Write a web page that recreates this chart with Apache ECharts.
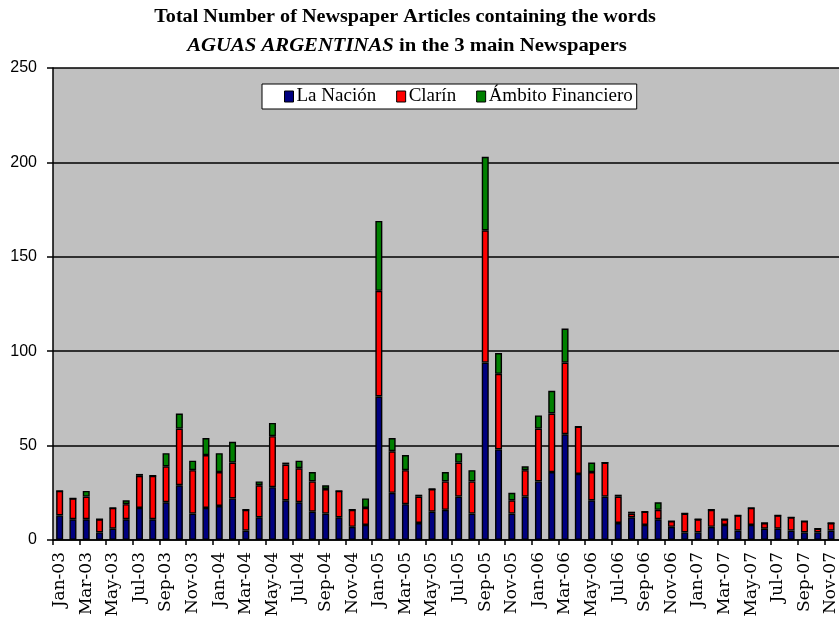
<!DOCTYPE html>
<html><head><meta charset="utf-8">
<script src="https://cdn.jsdelivr.net/npm/echarts@6/dist/echarts.min.js"></script>
<style>html,body{margin:0;padding:0;background:#fff}#c{width:839px;height:617px}</style>
</head><body><div id="c"></div>
<script>
const months = ['Jan-03','Feb-03','Mar-03','Apr-03','May-03','Jun-03','Jul-03','Aug-03','Sep-03','Oct-03','Nov-03','Dec-03',
'Jan-04','Feb-04','Mar-04','Apr-04','May-04','Jun-04','Jul-04','Aug-04','Sep-04','Oct-04','Nov-04','Dec-04',
'Jan-05','Feb-05','Mar-05','Apr-05','May-05','Jun-05','Jul-05','Aug-05','Sep-05','Oct-05','Nov-05','Dec-05',
'Jan-06','Feb-06','Mar-06','Apr-06','May-06','Jun-06','Jul-06','Aug-06','Sep-06','Oct-06','Nov-06','Dec-06',
'Jan-07','Feb-07','Mar-07','Apr-07','May-07','Jun-07','Jul-07','Aug-07','Sep-07','Oct-07','Nov-07','Dec-07'];
const laNacion = [13,11,11,4,6,11,17,11,20,29,14,17, 18,22,5,12,28,21,20,15,14,12,7,8, 76,25,19,9,15,16,23,14,94,48,14,23, 31,36,56,35,21,23,9,12,8,11,7,4, 4,7,8,5,8,6,6,5,4,4,5,7];
const clarin   = [13,11,12,7,11,8,17,23,19,30,23,28, 18,19,11,17,27,19,18,16,13,14,9,9, 56,22,18,14,12,15,18,17,70,40,7,14, 28,31,38,25,15,18,14,2,7,5,3,10, 7,9,3,8,9,3,7,7,6,2,4,8];
const ambito   = [0,0,3,0,0,2,1,0,7,8,5,9, 10,11,0,2,7,1,4,5,2,0,0,5, 37,7,8,1,0,5,5,6,39,11,4,2, 7,12,18,0,5,0,1,1,0,4,0,0, 0,0,0,0,0,0,0,0,0,0,0,0];
const seriesNames = ['La Nación','Clarín','Ámbito Financiero'];
const seriesColors = ['#000080','#ff0000','#008000'];
const yMax = 250, yStep = 50;
const titleLine1 = 'Total Number of Newspaper Articles containing the words';
const titleItalic = 'AGUAS ARGENTINAS';
const titleRest = ' in the 3 main Newspapers';

const chart = echarts.init(document.getElementById('c'));
const values = [laNacion, clarin, ambito];
chart.setOption({
  animation: false,
  backgroundColor: '#ffffff',
  graphic: [
    {type:'text', x:405, y:8, scaleX:1.12, style:{text:titleLine1, textAlign:'center', font:'bold 18px "Liberation Serif"', fill:'#000'}},
    {type:'text', x:407, y:37, scaleX:1.15, style:{text:'{i|'+titleItalic+'}{n|'+titleRest+'}', textAlign:'center',
      rich:{i:{font:'italic bold 18px "Liberation Serif"', fill:'#000'}, n:{font:'bold 18px "Liberation Serif"', fill:'#000'}}}}
  ],
  legend: {
    data: seriesNames, left: 262, top: 84, orient:'horizontal',
    backgroundColor:'#fff', borderColor:'#000', borderWidth:1, padding:[3,4,3,22],
    itemWidth:9, itemHeight:11, itemGap:20,
    icon:'rect',
    itemStyle:{borderColor:'#000', borderWidth:1},
    textStyle:{fontFamily:'Liberation Serif', fontSize:19, color:'#000', padding:[0,0,0,-2]}
  },
  grid: {left:53, top:68, bottom:77, right:-12, show:true, backgroundColor:'#c0c0c0', borderWidth:0,
    containLabel:false, outerBoundsMode:'none'},
  xAxis: {
    type:'category', data: months, boundaryGap:true,
    axisLine:{lineStyle:{color:'#000', width:1.5}},
    axisTick:{show:true, interval:1, length:5, lineStyle:{color:'#000', width:1.5}},
    axisLabel:{interval:1, rotate:90, margin:12, fontFamily:'DejaVu Serif', fontSize:17, color:'#000'}
  },
  yAxis: {
    type:'value', min:0, max:yMax, interval:yStep,
    axisLine:{show:true, lineStyle:{color:'#000', width:1.5}},
    axisTick:{show:true, length:6, lineStyle:{color:'#000', width:1.5}},
    axisLabel:{margin:16, fontFamily:'Liberation Sans', fontSize:16, color:'#000'},
    splitLine:{show:true, lineStyle:{color:'#000', width:1.5}}
  },
  series: seriesNames.map((n,k)=>({
    name:n, type:'bar', stack:'total', data: values[k], barWidth:7,
    itemStyle:{color:seriesColors[k], borderColor:'#000', borderWidth:1.4}
  }))
});
</script></body></html>
